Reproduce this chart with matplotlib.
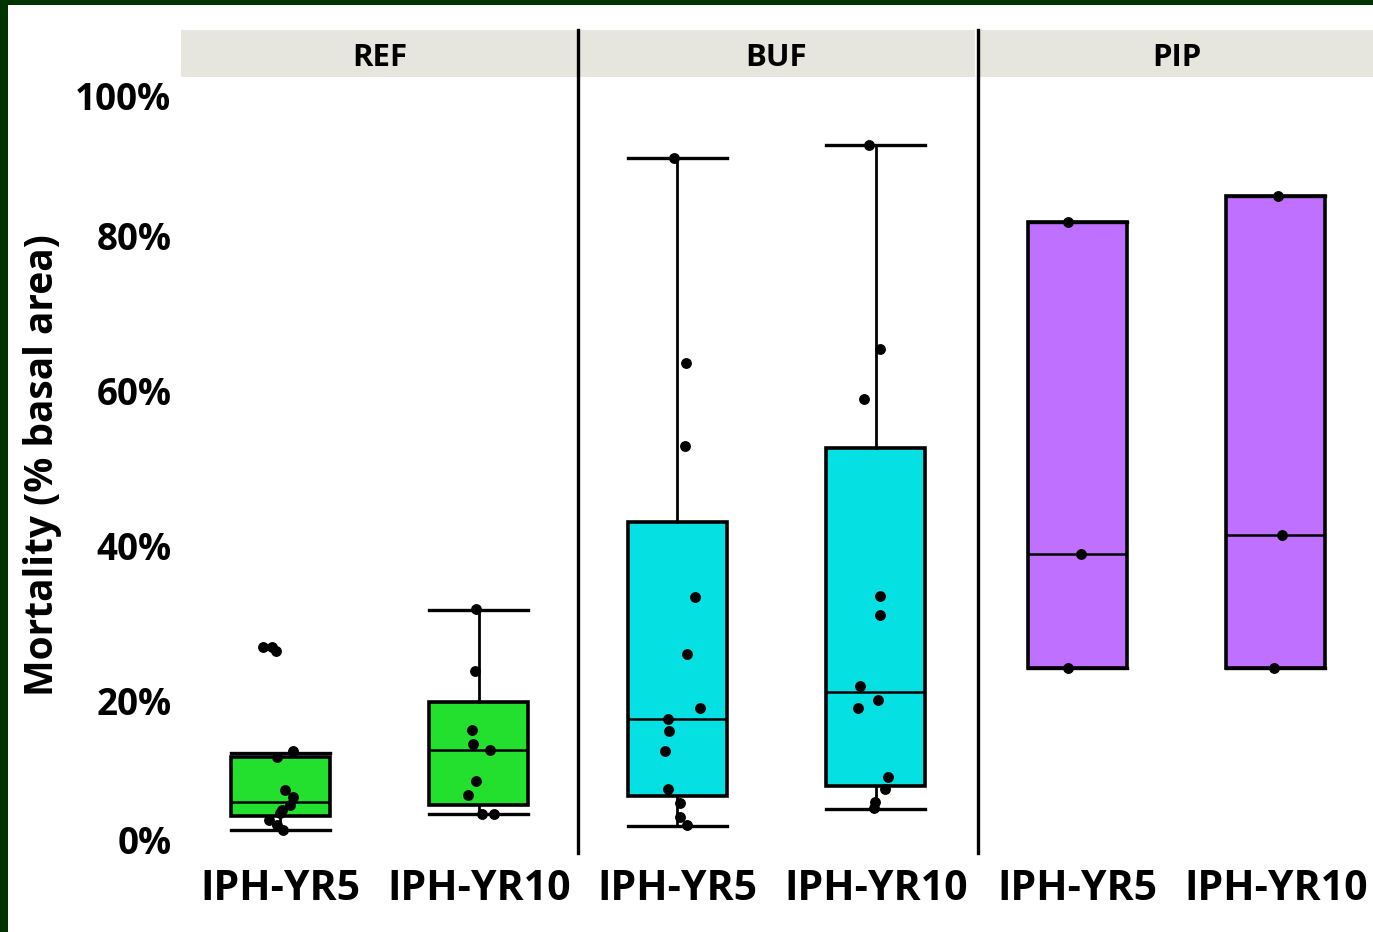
import matplotlib
matplotlib.use("Agg")
import matplotlib.pyplot as plt
import matplotlib.transforms as mtransforms
from matplotlib.lines import Line2D
from matplotlib.patches import Rectangle

plt.rcParams['font.family'] = ['Open Sans', 'DejaVu Sans']
plt.rcParams['font.weight'] = 'bold'

# data (values in % basal area)
groups = ["REF", "BUF", "PIP"]
periods = ["IPH-YR5", "IPH-YR10"]
colors = ["#24E02E", "#05E0E3", "#C070FF"]

whislo = [[3.2, 5.3], [4.1, 6.3], [24.4, 24.4]]
q1 = [[5.0, 6.4], [8.0, 9.3], [24.4, 24.4]]
med = [[6.8, 13.5], [17.9, 21.3], [39.1, 41.5]]
q3 = [[12.7, 19.8], [43.2, 52.7], [81.7, 85.1]]
whishi = [[13.2, 31.6], [90.0, 91.6], [81.7, 85.1]]

ref_yr5 = [26.9, 26.9, 26.3, 13.4, 12.6, 8.4, 7.5, 6.4, 5.8, 5.4, 4.5, 3.9, 3.2]
ref_yr10 = [31.7, 23.7, 16.1, 14.3, 13.5, 9.5, 7.7, 5.3, 5.3]
buf_yr5 = [90.0, 63.6, 53.0, 33.5, 26.2, 19.3, 17.9, 16.3, 13.8, 8.9, 7.1, 5.3, 4.2]
buf_yr10 = [91.6, 65.4, 59.0, 33.7, 31.2, 22.1, 20.3, 19.3, 10.4, 8.9, 7.2, 6.4]
pip_yr5 = [81.7, 39.1, 24.4]
pip_yr10 = [85.1, 41.5, 24.4]
points = [[ref_yr5, ref_yr10], [buf_yr5, buf_yr10], [pip_yr5, pip_yr10]]

# horizontal jitter of the points, as drawn in the figure
ref_yr5_jit = [-0.086, -0.04, -0.02, 0.066, -0.015, 0.025, 0.066, 0.05, 0.01, 0.0, -0.056, -0.015, 0.015]
ref_yr10_jit = [-0.015, -0.02, -0.036, -0.03, 0.056, -0.015, -0.056, 0.015, 0.076]
buf_yr5_jit = [-0.015, 0.046, 0.04, 0.09, 0.05, 0.117, -0.046, -0.04, -0.06, -0.046, 0.015, 0.015, 0.05]
buf_yr10_jit = [-0.036, 0.02, -0.06, 0.02, 0.02, -0.08, 0.01, -0.09, 0.06, 0.046, -0.005, -0.01]
pip_yr5_jit = [-0.046, 0.02, -0.046]
pip_yr10_jit = [0.01, 0.03, -0.01]
jitter = [[ref_yr5_jit, ref_yr10_jit], [buf_yr5_jit, buf_yr10_jit], [pip_yr5_jit, pip_yr10_jit]]

yticks = [0, 20, 40, 60, 80, 100]

W, H = 1373, 932
fig = plt.figure(figsize=(W / 100, H / 100), dpi=100)
fig.patch.set_facecolor("#013301")
fig.add_artist(Rectangle((8 / W, 0), 1, (H - 5) / H, transform=fig.transFigure,
                         facecolor="white", edgecolor="none", zorder=-10))

panel_left = [181, 578, 978]
panel_w = 397
ax_bot = 1 - 855 / H
ax_h = (855 - 77) / H
strip_bot = 1 - 77 / H
strip_h = 47 / H

for i, g in enumerate(groups):
    left = panel_left[i] / W
    ax = fig.add_axes([left, ax_bot, panel_w / W, ax_h])
    ax.set_facecolor("none")
    stats = []
    for j in range(2):
        stats.append(dict(whislo=whislo[i][j], q1=q1[i][j], med=med[i][j],
                          q3=q3[i][j], whishi=whishi[i][j], fliers=[]))
    ax.bxp(stats, positions=[1, 2], widths=0.5, capwidths=0.5, patch_artist=True,
           showfliers=False, manage_ticks=False,
           boxprops=dict(facecolor=colors[i], edgecolor="black", linewidth=2.6),
           medianprops=dict(color="black", linewidth=1.8),
           whiskerprops=dict(color="black", linewidth=2.0),
           capprops=dict(color="black", linewidth=2.4))
    for j in range(2):
        xs = [1 + j + d for d in jitter[i][j]]
        ax.plot(xs, points[i][j], "o", color="black", markersize=6.8, zorder=5)

    ax.set_xlim(0.5, 2.5)
    ax.set_ylim(0.4, 100.4)
    ax.set_xticks([1, 2])
    ax.set_xticklabels(periods, fontsize=29.5, fontweight="bold")
    ax.tick_params(axis="x", length=0, pad=10)
    for s in ax.spines.values():
        s.set_visible(False)
    if i == 0:
        ax.set_yticks(yticks)
        ax.set_yticklabels([f"{t}%" for t in yticks], fontsize=26.5, fontweight="bold")
        ax.tick_params(axis="y", length=0, pad=7)
        labels = ax.get_yticklabels()
        labels[0].set_transform(labels[0].get_transform() +
                                mtransforms.ScaledTranslation(0, 15 / 100, fig.dpi_scale_trans))
        labels[-1].set_transform(labels[-1].get_transform() +
                                 mtransforms.ScaledTranslation(0, -15 / 100, fig.dpi_scale_trans))
    else:
        ax.set_yticks([])

    strip_w = (W - panel_left[i]) if i == 2 else panel_w
    sax = fig.add_axes([left, strip_bot, strip_w / W, strip_h])
    sax.set_facecolor("#E6E6DE")
    sax.set_xticks([])
    sax.set_yticks([])
    for s in sax.spines.values():
        s.set_visible(False)
    sax.text(panel_w / 2 / strip_w, 0.4, g,
             transform=sax.transAxes, ha="center", va="center", fontsize=22.5, fontweight="bold")

# panel separators
for xp in [578, 978]:
    fig.add_artist(Line2D([xp / W, xp / W], [1 - 853 / H, 1 - 30 / H], transform=fig.transFigure,
                          color="black", linewidth=2.4))

fig.text(43 / W, 1 - 465 / H, "Mortality (% basal area)", rotation=90, ha="center", va="center",
         fontsize=28, fontweight="bold")

fig.savefig("out.png", dpi=100, facecolor=fig.get_facecolor())
